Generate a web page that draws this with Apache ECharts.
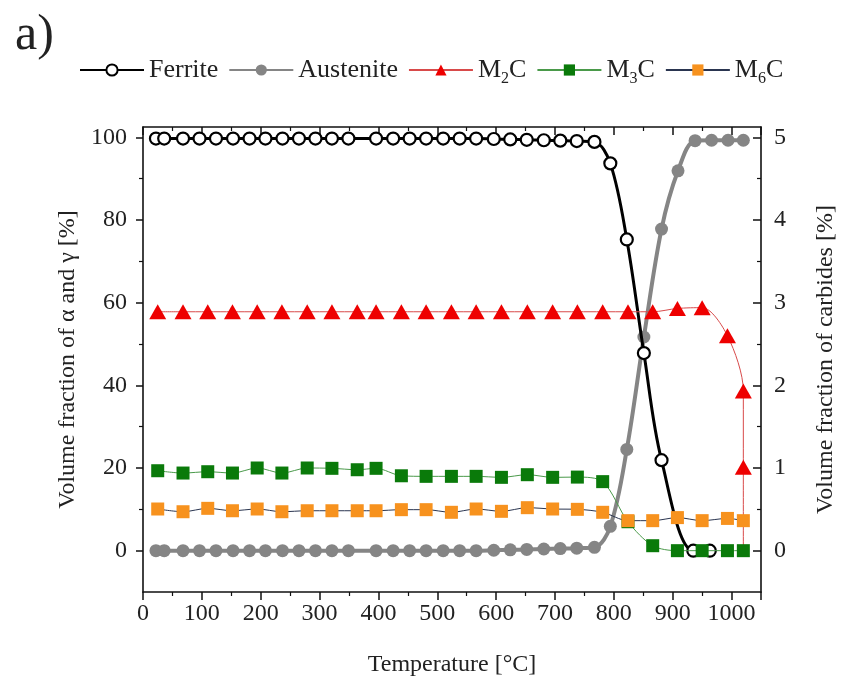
<!DOCTYPE html>
<html><head><meta charset="utf-8">
<script src="https://cdn.jsdelivr.net/npm/echarts@6/dist/echarts.min.js"></script>
<style>html,body{margin:0;padding:0;background:#fff}#c{width:846px;height:691px}</style>
</head><body><div id="c"></div>
<script>
// ---- data ----
const ferriteT = [22,36,68,96,124,153,181,208,237,265,293,321,349,396,425,453,481,510,538,566,596,624,652,681,709,737,767,794,822,851,881,935,963];
const ferriteV = [99.7,99.7,99.7,99.7,99.7,99.7,99.7,99.7,99.7,99.7,99.7,99.7,99.7,99.7,99.7,99.7,99.7,99.7,99.7,99.7,99.6,99.5,99.4,99.3,99.2,99.1,98.9,93.7,75.3,47.8,21.9,0,0];
const austeniteT = [22,36,68,96,124,153,181,208,237,265,293,321,349,396,425,453,481,510,538,566,596,624,652,681,709,737,767,794,822,851,881,909,938,966,994,1020];
const austeniteV = [0,0,0,0,0,0,0,0,0,0,0,0,0,0,0,0,0,0,0,0,0.1,0.2,0.3,0.4,0.5,0.6,0.8,5.9,24.5,51.7,77.8,91.9,99.2,99.3,99.3,99.3];
const carbideT = [25,68,110,152,194,236,279,321,364,396,439,481,524,566,609,653,696,738,781,824,866,908,950,993,1020];
const m2cV = [2.89,2.89,2.89,2.89,2.89,2.89,2.89,2.89,2.89,2.89,2.89,2.89,2.89,2.89,2.89,2.89,2.89,2.89,2.89,2.89,2.89,2.93,2.94,2.60,1.93];
const m2cTailT = [1020,1020];
const m2cTailV = [1.01,0];
const m3cV = [0.967,0.939,0.955,0.939,1.0,0.939,1.0,0.996,0.979,0.996,0.906,0.899,0.899,0.899,0.887,0.919,0.887,0.89,0.835,0.35,0.06,0,0,0,0];
const m6cV = [0.504,0.471,0.512,0.483,0.504,0.471,0.483,0.483,0.483,0.483,0.496,0.496,0.464,0.504,0.476,0.52,0.504,0.5,0.464,0.363,0.363,0.40,0.363,0.39,0.363];
const xTicks = [0,100,200,300,400,500,600,700,800,900,1000];
const leftTicks = [0,20,40,60,80,100];
const leftMinor = [10,30,50,70,90];
const rightTicks = [0,1,2,3,4,5];
const rightMinor = [0.5,1.5,2.5,3.5,4.5];

const FONT = 'Liberation Serif';
const TXT = '#222';
const zip = (xs, ys) => xs.map((x, i) => [x, ys[i]]);

const m2cData = zip(carbideT, m2cV).concat(
  zip(m2cTailT, m2cTailV).map((p, i, a) => i === a.length - 1 ? {value: p, symbol: 'none'} : p)
);

const chart = echarts.init(document.getElementById('c'));
const axLine = {show: true, onZero: false, lineStyle: {color: '#111', width: 1.6}};
const tickStyle = {color: '#111', width: 1.5};
const minorStyle = {color: '#111', width: 1.2};
const plain = v => String(v);
chart.setOption({
  animation: false,
  backgroundColor: '#fff',
  title: {text: 'a)', left: 10, top: 6, textStyle: {fontFamily: FONT, fontSize: 50, fontWeight: 'normal', color: TXT}},
  legend: {
    left: 74, top: 52, itemWidth: 64, itemHeight: 14, itemGap: 10,
    formatter: name => {
      const m = name.match(/^M(\d)C$/);
      return m ? `{n|M}{s|${m[1]}}{n|C}` : `{n|${name}}`;
    },
    textStyle: {
      fontFamily: FONT, fontSize: 26, color: TXT,
      rich: {
        n: {fontFamily: FONT, fontSize: 26, color: TXT},
        s: {fontFamily: FONT, fontSize: 16, color: TXT, padding: [18, 0, 0, 0]}
      }
    },
    data: ['Ferrite', 'Austenite', 'M2C', 'M3C', 'M6C']
  },
  grid: {left: 143, right: 85, top: 127, bottom: 99, containLabel: false},
  xAxis: [
    {
      type: 'value', position: 'bottom', min: 0, max: 1050, interval: 100,
      name: 'Temperature [°C]', nameLocation: 'middle', nameGap: 61,
      nameTextStyle: {fontFamily: FONT, fontSize: 24, color: TXT},
      axisLine: axLine,
      axisTick: {show: true, inside: false, length: 8, lineStyle: tickStyle},
      minorTick: {show: true, splitNumber: 2, length: 4, lineStyle: minorStyle},
      axisLabel: {fontFamily: FONT, fontSize: 24, color: TXT, margin: 10, customValues: xTicks, formatter: plain},
      splitLine: {show: false}
    },
    {
      type: 'value', position: 'top', min: 0, max: 1050, interval: 100,
      axisLine: axLine,
      axisTick: {show: true, inside: true, length: 8, lineStyle: tickStyle},
      minorTick: {show: true, splitNumber: 2, length: 4, lineStyle: minorStyle},
      axisLabel: {show: false},
      splitLine: {show: false}
    }
  ],
  yAxis: [
    {
      type: 'value', position: 'left', min: -10, max: 102.5,
      name: 'Volume fraction of α and γ [%]', nameLocation: 'middle', nameGap: 59, nameRotate: 90,
      nameTextStyle: {fontFamily: FONT, fontSize: 24, color: TXT},
      axisLine: axLine,
      axisTick: {show: true, inside: false, length: 7, customValues: leftTicks, lineStyle: tickStyle},
      axisLabel: {fontFamily: FONT, fontSize: 24, color: TXT, margin: 16, customValues: leftTicks, formatter: plain},
      splitLine: {show: false}
    },
    {
      type: 'value', position: 'right', min: -0.5, max: 5.125,
      name: 'Volume fraction of carbides [%]', nameLocation: 'middle', nameGap: 53, nameRotate: 90,
      nameTextStyle: {fontFamily: FONT, fontSize: 24, color: TXT},
      axisLine: axLine,
      axisTick: {show: true, inside: true, length: 8, customValues: rightTicks, lineStyle: tickStyle},
      axisLabel: {fontFamily: FONT, fontSize: 24, color: TXT, margin: 13, customValues: rightTicks, formatter: plain},
      splitLine: {show: false}
    },
    {
      type: 'value', position: 'left', min: -10, max: 102.5,
      axisLine: {show: false, onZero: false},
      axisTick: {show: true, inside: false, length: 4, customValues: leftMinor, lineStyle: minorStyle},
      axisLabel: {show: false},
      splitLine: {show: false}
    },
    {
      type: 'value', position: 'right', min: -0.5, max: 5.125,
      axisLine: {show: false, onZero: false},
      axisTick: {show: true, inside: true, length: 4, customValues: rightMinor, lineStyle: minorStyle},
      axisLabel: {show: false},
      splitLine: {show: false}
    }
  ],
  series: [
    {
      name: 'Austenite', type: 'line', xAxisIndex: 0, yAxisIndex: 0, z: 2,
      data: zip(austeniteT, austeniteV), smooth: 0.35,
      symbol: 'circle', symbolSize: 13,
      lineStyle: {color: '#858585', width: 4},
      itemStyle: {color: '#858585', borderColor: '#858585', borderWidth: 0}
    },
    {
      name: 'Ferrite', type: 'line', xAxisIndex: 0, yAxisIndex: 0, z: 3,
      data: zip(ferriteT, ferriteV), smooth: 0.35,
      symbol: 'circle', symbolSize: 12,
      lineStyle: {color: '#000', width: 3},
      itemStyle: {color: '#fff', borderColor: '#000', borderWidth: 2.2}
    },
    {
      name: 'M2C', type: 'line', xAxisIndex: 0, yAxisIndex: 1, z: 4,
      data: m2cData, smooth: 0.3,
      symbol: 'triangle', symbolSize: [17, 15],
      lineStyle: {color: '#d84a4a', width: 1},
      itemStyle: {color: '#ee0000', borderWidth: 0}
    },
    {
      name: 'M3C', type: 'line', xAxisIndex: 0, yAxisIndex: 1, z: 5,
      data: zip(carbideT, m3cV), smooth: 0.3,
      symbol: 'rect', symbolSize: 13,
      lineStyle: {color: '#4a9a4a', width: 1},
      itemStyle: {color: '#0a7a0a', borderWidth: 0}
    },
    {
      name: 'M6C', type: 'line', xAxisIndex: 0, yAxisIndex: 1, z: 6,
      data: zip(carbideT, m6cV), smooth: 0.3,
      symbol: 'rect', symbolSize: 13,
      lineStyle: {color: '#2a3550', width: 1},
      itemStyle: {color: '#f7921e', borderWidth: 0}
    }
  ]
});
</script>
</body></html>
